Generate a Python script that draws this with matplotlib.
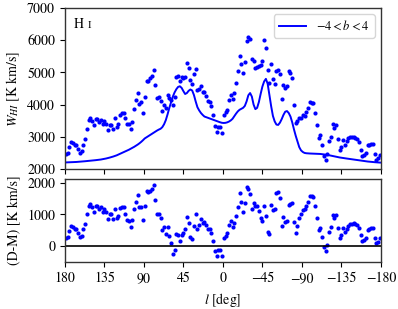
import numpy as np
import matplotlib
matplotlib.use('Agg')
import matplotlib.pyplot as plt

plt.rcParams['font.family'] = ['STIXGeneral', 'DejaVu Serif']
plt.rcParams['mathtext.fontset'] = 'stix'
plt.rcParams['font.size'] = 10

# galactic longitude grid of the survey points [deg]
glon = np.arange(179, -180, -2)

# model brightness temperature integral, -4 < b < 4 [K km/s]
w_model = [
    2205, 2207, 2209, 2211, 2213, 2216, 2219, 2223, 2227, 2232,
    2237, 2242, 2247, 2252, 2257, 2263, 2269, 2275, 2281, 2287,
    2295, 2305, 2315, 2327, 2340, 2355, 2370, 2387, 2405, 2425,
    2450, 2475, 2500, 2525, 2550, 2575, 2600, 2630, 2660, 2690,
    2725, 2760, 2800, 2845, 2895, 2950, 2985, 3020, 3055, 3090,
    3125, 3160, 3195, 3225, 3250, 3300, 3390, 3520, 3700, 3900,
    4080, 4250, 4380, 4480, 4550, 4570, 4520, 4420, 4330, 4360,
    4430, 4470, 4440, 4300, 4100, 3920, 3820, 3740, 3680, 3630,
    3610, 3590, 3570, 3550, 3530, 3510, 3490, 3470, 3450, 3435,
    3430, 3435, 3450, 3475, 3510, 3560, 3640, 3720, 3790, 3840,
    3870, 3900, 3960, 4100, 4290, 4360, 4250, 4000, 3860, 3900,
    4080, 4330, 4560, 4720, 4800, 4650, 4300, 3950, 3650, 3480,
    3380, 3370, 3440, 3550, 3680, 3780, 3800, 3740, 3630, 3450,
    3230, 3030, 2850, 2680, 2580, 2530, 2500, 2490, 2485, 2482,
    2480, 2478, 2476, 2474, 2472, 2468, 2462, 2455, 2447, 2438,
    2428, 2416, 2404, 2392, 2380, 2368, 2359, 2350, 2342, 2334,
    2326, 2318, 2310, 2302, 2294, 2286, 2278, 2270, 2262, 2254,
    2246, 2239, 2233, 2227, 2222, 2217, 2212, 2208, 2204, 2200,
]

# data minus model [K km/s]
d_minus_m = [
    257, 289, 470, 640, 608, 534, 523, 395, 278, 321,
    523, 683, 1002, 1258, 1343, 1237, 1088, 1269, 1279, 1183,
    1226, 1088, 1183, 1066, 864, 1013, 1002, 864, 1183, 875,
    949, 1194, 1237, 1226, 1024, 811, 789, 608, 811, 1173,
    1407, 1609, 1226, 1237, 832, 1279, 1748, 1705, 1758, 1812,
    1940, 1460, 1024, 1002, 875, 502, 587, 385, 598,
    321, 76, -276, -137, 363, 342, 150, 342, 395, 523,
    928, 715, 289, 204, 640, 1002, 534, 661, 853, 715,
    768, 661, 523, 523, 417, 150, -160, -330, -150, -150,
    -320, 257, 321, 395, 661, 789, 608, 715, 960, 1247,
    1673, 1386, 1088, 1354, 1886, 1812, 1663, 1173, 1354, 1279,
    1279, 1109, 896, 789, 1279, 960, 427, 374, 1301, 1141,
    1162, 1673, 1705, 1514, 640, 917, 747, 789, 1301, 1343,
    1375, 768, 395, 640, 896, 1013, 1141, 1162, 1279, 1407,
    1599, 1577, 1567, 1279, 896, 502, 576, 289, -52, -159,
    23, 427, 587, 981, 896, 981, 555, 236, 342, 555,
    427, 534, 640, 683, 693, 715, 693, 661, 555, 342,
    150, 182, 257, 502, 534, 555, 555, 257, 76, 129,
    236,
]

w_model = np.array(w_model)
d_minus_m = np.array(d_minus_m)
w_data = w_model + d_minus_m

xticks = [180, 135, 90, 45, 0, -45, -90, -135, -180]

fig = plt.figure(figsize=(3.98, 3.09), dpi=100)
ax1 = fig.add_axes([0.163, 0.453, 0.794, 0.521])
ax2 = fig.add_axes([0.163, 0.152, 0.794, 0.269])

ax1.plot(glon, w_data, 'o', color='blue', ms=3.0, mew=0)
ax1.plot(glon, w_model, '-', color='blue', lw=1.4, label=r'$-4 < b < 4$')
ax1.set_xlim(180, -180)
ax1.set_ylim(2000, 7000)
ax1.set_xticks(xticks)
ax1.set_xticklabels([])
ax1.set_ylabel(r'$W_{HI}$ [K km/s]')
ax1.legend(loc='upper right', fontsize=9, handlelength=2.2)
ax1.text(0.028, 0.94, 'H', transform=ax1.transAxes, va='top', fontsize=10)
ax1.text(0.072, 0.925, 'I', transform=ax1.transAxes, va='top', fontsize=7.5)

ax2.plot(glon, d_minus_m, 'o', color='blue', ms=3.0, mew=0)
ax2.axhline(0, color='black', lw=1.2)
ax2.set_xlim(180, -180)
ax2.set_ylim(-520, 2130)
ax2.set_xticks(xticks)
ax2.set_yticks([0, 1000, 2000])
ax2.set_xlabel(r'$l$ [deg]')
ax2.set_ylabel('(D-M) [K km/s]')

for ax in (ax1, ax2):
    for sp in ax.spines.values():
        sp.set_linewidth(1.0)
        sp.set_color('0.2')

fig.align_ylabels([ax1, ax2])
fig.savefig('out.png', dpi=100)
